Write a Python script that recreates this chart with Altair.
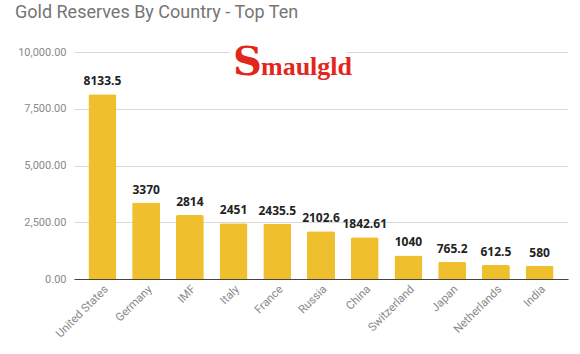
import altair as alt
import pandas as pd

countries = ["United States", "Germany", "IMF", "Italy", "France", "Russia",
             "China", "Switzerland", "Japan", "Netherlands", "India"]
tonnes = [8133.5, 3370, 2814, 2451, 2435.5, 2102.6, 1842.61, 1040, 765.2, 612.5, 580]
labels = ["8133.5", "3370", "2814", "2451", "2435.5", "2102.6", "1842.61",
          "1040", "765.2", "612.5", "580"]
y_ticks = [0, 2500, 5000, 7500, 10000]

df = pd.DataFrame({"country": countries, "tonnes": tonnes, "label": labels})

x = alt.X("country:N", sort=countries, title=None,
          scale=alt.Scale(paddingInner=0.36, paddingOuter=0.33),
          axis=alt.Axis(labelAngle=-45, labelColor="#8a8a8a", labelFontSize=11.5,
                        labelFont="Roboto", ticks=False, domainColor="#444444",
                        domainWidth=1.2, labelPadding=4))
y = alt.Y("tonnes:Q", title=None,
          scale=alt.Scale(domain=[0, 10000], nice=False),
          axis=alt.Axis(values=y_ticks, format=",.2f", labelColor="#8a8a8a",
                        labelFontSize=11, labelFont="Roboto", domain=False,
                        ticks=False, gridColor="#d9d9d9", labelPadding=8))

base = alt.Chart(df)
bars = base.mark_bar(color="#f0bf2e", cornerRadiusTopLeft=2,
                     cornerRadiusTopRight=2).encode(x=x, y=y)
text = base.mark_text(baseline="bottom", dy=-6, fontWeight="bold", fontSize=12,
                      font="Open Sans", color="#222222").encode(
    x=alt.X("country:N", sort=countries), y="tonnes:Q", text="label:N")

logo_bg = alt.Chart(pd.DataFrame({"a": [0]})).mark_rect(color="white").encode(
    x=alt.value(156), x2=alt.value(272), y=alt.value(-8), y2=alt.value(28))
logo_s = alt.Chart(pd.DataFrame({"t": ["S"]})).mark_text(
    font="DejaVu Serif", fontWeight="bold", fontSize=40, color="#e3261c",
    align="left", baseline="alphabetic").encode(
    x=alt.value(159), y=alt.value(23), text="t:N")
logo_rest = alt.Chart(pd.DataFrame({"t": ["maulgld"]})).mark_text(
    font="Liberation Serif", fontWeight="bold", fontSize=26, color="#e3261c",
    align="left", baseline="alphabetic").encode(
    x=alt.value(187), y=alt.value(23), text="t:N")

chart = alt.layer(bars, text, logo_bg, logo_s, logo_rest).properties(
    width=494, height=227,
    padding={"left": 74, "top": 52, "right": 12, "bottom": 75},
    autosize="none",
    title=alt.TitleParams("Gold Reserves By Country - Top Ten", anchor="start",
                          frame="group", dx=-59, offset=21, fontSize=18,
                          font="Roboto", fontWeight="normal", color="#757575"),
).configure_view(stroke=None)

chart.save("out.html", embed_options={"renderer": "svg", "actions": False})
